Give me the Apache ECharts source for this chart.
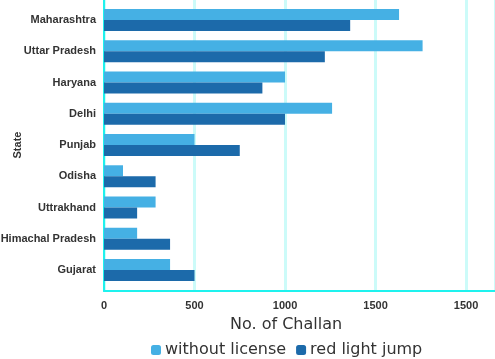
<!DOCTYPE html>
<html>
<head>
<meta charset="utf-8">
<script src="https://cdn.jsdelivr.net/npm/echarts@6/dist/echarts.min.js"></script>
<style>html,body{margin:0;padding:0;background:#fff}#c{width:495px;height:359px}</style>
</head>
<body>
<div id="c"></div>
<script>
var states = ['Maharashtra','Uttar Pradesh','Haryana','Delhi','Punjab','Odisha','Uttrakhand','Himachal Pradesh','Gujarat'];
var withoutLicense = [1630, 1760, 1000, 1260, 500, 105, 285, 183, 365];
var redLightJump = [1360, 1220, 875, 1000, 750, 285, 183, 365, 500];
var tickValues = [0, 500, 1000, 1500, 2000];
var tickLabels = ['0', '500', '1000', '1500', '1500'];

var chart = echarts.init(document.getElementById('c'));
var AX = '#1ef2ee', GRID = '#ccfbf9', TXT = '#333333';
var xmax = 2160;
chart.setOption({
  animation: false,
  grid: [
    {left: 104, right: 0, top: 4.4, height: 281.25, containLabel: false, outerBoundsMode: 'none'},
    {left: 104, right: 0, top: 0, height: 291, containLabel: false, outerBoundsMode: 'none'}
  ],
  xAxis: [
    {gridIndex: 0, type: 'value', min: 0, max: xmax, interval: 500, show: false},
    {gridIndex: 1, type: 'value', min: 0, max: xmax, interval: 500,
      axisLine: {show: true, lineStyle: {color: AX, width: 2}},
      axisTick: {show: false},
      splitLine: {show: true, lineStyle: {color: GRID, width: 3}},
      axisLabel: {show: true, margin: 9, showMaxLabel: false, color: TXT, fontFamily: 'Liberation Sans', fontWeight: 'bold', fontSize: 11,
        formatter: function (v) { var i = tickValues.indexOf(v); return i >= 0 ? tickLabels[i] : ''; }}
    }
  ],
  yAxis: [
    {gridIndex: 0, type: 'category', data: states, inverse: true,
      axisLine: {show: false}, axisTick: {show: false}, splitLine: {show: false},
      axisLabel: {margin: 8, color: TXT, fontFamily: 'Liberation Sans', fontWeight: 'bold', fontSize: 11},
      name: 'State', nameLocation: 'middle', nameGap: 81, nameMoveOverlap: false,
      nameTextStyle: {color: TXT, fontFamily: 'Liberation Sans', fontWeight: 'bold', fontSize: 11}
    },
    {gridIndex: 1, type: 'value', min: 0, max: 1,
      axisLine: {show: true, lineStyle: {color: AX, width: 2}},
      axisTick: {show: false}, axisLabel: {show: false}, splitLine: {show: false}
    }
  ],
  legend: {
    left: 146, top: 337, itemWidth: 10, itemHeight: 10, itemGap: 10, icon: 'roundRect', padding: [5,5,5,5],
    textStyle: {color: TXT, fontFamily: 'DejaVu Sans', fontSize: 16, padding: [0,0,0,-1]},
    data: ['without license', 'red light jump']
  },
  graphic: [{type: 'text', left: 230, top: 317,
    style: {text: 'No. of Challan', fill: TXT, font: '16px "DejaVu Sans"'}}],
  series: [
    {name: 'without license', type: 'bar', xAxisIndex: 0, yAxisIndex: 0, data: withoutLicense,
      barWidth: 11, barGap: '0%', itemStyle: {color: '#45b0e4'}, z: 5},
    {name: 'red light jump', type: 'bar', xAxisIndex: 0, yAxisIndex: 0, data: redLightJump,
      barWidth: 11, barGap: '0%', itemStyle: {color: '#1c6aaa'}, z: 5}
  ]
});
</script>
</body>
</html>
